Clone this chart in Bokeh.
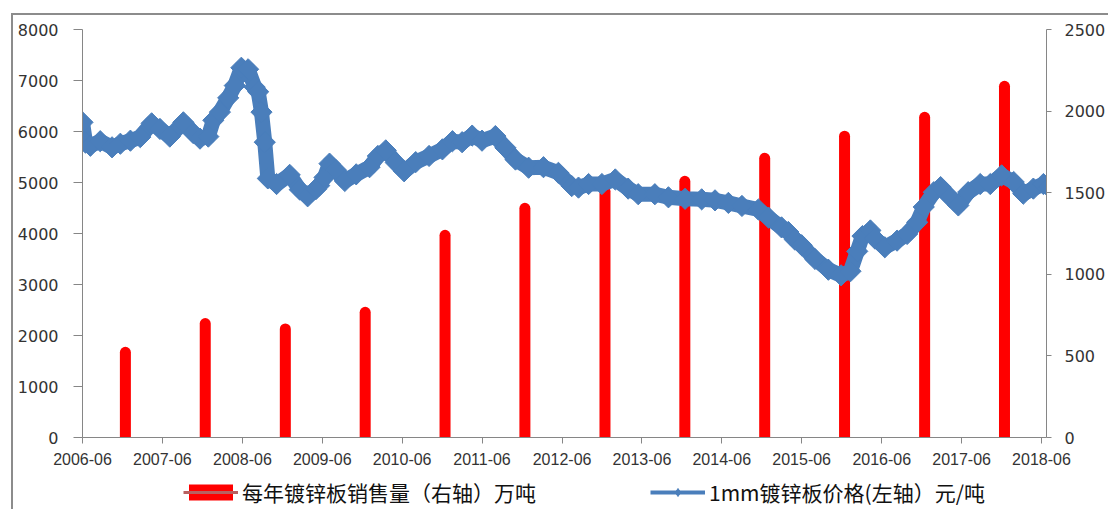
import numpy as np
import pandas as pd
from bokeh.plotting import figure
from bokeh.layouts import column
from bokeh.models import (Range1d, LinearAxis, FixedTicker, Legend, LegendItem,
                          ColumnDataSource, InlineStyleSheet)
from bokeh.embed import file_html
from bokeh.resources import INLINE

# ---------------- data ----------------
tick_labels = ["2006-06", "2007-06", "2008-06", "2009-06", "2010-06", "2011-06", "2012-06",
               "2013-06", "2014-06", "2015-06", "2016-06", "2017-06", "2018-06"]
left_ticks = [0, 1000, 2000, 3000, 4000, 5000, 6000, 7000, 8000]
right_ticks = [0, 500, 1000, 1500, 2000, 2500]

sales_dates = ["2006-12-14", "2007-12-14", "2008-12-14", "2009-12-14", "2010-12-14", "2011-12-14",
               "2012-12-14", "2013-12-14", "2014-12-14", "2015-12-14", "2016-12-14", "2017-12-14"]
sales_values = [522, 698, 665, 767, 1239, 1404, 1509, 1570, 1711, 1846, 1962, 2152]

price_dates = [
    "2006-06-01", "2006-06-15", "2006-07-07", "2006-08-21", "2006-10-14", "2006-11-21",
    "2007-01-06", "2007-02-20", "2007-04-13", "2007-05-21", "2007-07-05", "2007-09-05",
    "2007-10-20", "2007-11-20", "2007-12-28", "2008-01-20", "2008-02-19", "2008-03-28",
    "2008-04-27", "2008-05-27", "2008-06-27", "2008-07-27", "2008-08-12", "2008-08-27",
    "2008-09-11", "2008-09-25", "2008-11-04", "2009-01-03", "2009-02-18", "2009-03-26",
    "2009-05-03", "2009-05-18", "2009-06-11", "2009-07-04", "2009-08-03", "2009-09-12",
    "2009-11-03", "2010-01-03", "2010-02-10", "2010-03-18", "2010-05-03", "2010-06-10",
    "2010-08-02", "2010-10-02", "2010-12-02", "2011-01-17", "2011-03-02", "2011-04-17",
    "2011-06-01", "2011-08-01", "2011-09-16", "2011-11-01", "2011-12-31", "2012-03-08",
    "2012-05-15", "2012-07-15", "2012-08-15", "2012-09-30", "2012-11-30", "2013-01-30",
    "2013-03-30", "2013-05-15", "2013-07-30", "2013-09-30", "2013-12-15", "2014-03-01",
    "2014-05-01", "2014-07-01", "2014-09-01", "2014-11-15", "2015-01-01", "2015-03-01",
    "2015-04-01", "2015-05-01", "2015-06-01", "2015-08-01", "2015-10-01", "2015-11-28",
    "2016-01-10", "2016-02-10", "2016-03-05", "2016-04-10", "2016-05-01", "2016-06-15",
    "2016-08-10", "2016-09-25", "2016-11-10", "2016-12-10", "2017-01-25", "2017-02-25",
    "2017-04-10", "2017-05-17", "2017-07-01", "2017-08-25", "2017-10-10", "2017-12-01",
    "2018-01-25", "2018-03-10", "2018-04-25", "2018-06-10", "2018-07-05"]
price_values = [
    6180, 5780, 5720, 5810, 5690, 5760,
    5820, 5890, 6160, 6050, 5900, 6180,
    5970, 5860, 5900, 6220, 6380, 6660,
    6900, 7250, 7220, 6870, 6780, 6380,
    5790, 5080, 4970, 5150, 4860, 4730,
    4870, 4940, 5100, 5370, 5240, 5030,
    5160, 5300, 5520, 5630, 5390, 5220,
    5400, 5520, 5650, 5810, 5790, 5920,
    5820, 5910, 5680, 5450, 5290, 5300,
    5190, 4930, 4900, 4970, 4970, 5060,
    4880, 4770, 4770, 4710, 4680, 4670,
    4650, 4600, 4540, 4470, 4310, 4120,
    4030, 3880, 3770, 3500, 3290, 3180,
    3260, 3650, 3950, 4060, 3900, 3730,
    3860, 3990, 4220, 4520, 4810, 4910,
    4710, 4550, 4810, 4970, 4970, 5140,
    5010, 4780, 4880, 4970, 4910]

label_sales = "每年镀锌板销售量（右轴）万吨"
label_price = "1mm镀锌板价格(左轴）元/吨"

# ---------------- styling ----------------
BLUE = "#4A7EBB"
RED = "#FF0000"
AXIS_GRAY = "#868686"
TEXT = "#333333"

def ms(s):
    return pd.Timestamp(s).value // 10**6

x_start = ms("2006-06-01")
x_end = ms("2018-06-24")

p = figure(width=1108, height=475, x_axis_type="datetime",
           x_range=Range1d(x_start, x_end), y_range=Range1d(0, 8000),
           output_backend="svg", toolbar_location=None,
           min_border_left=82, min_border_right=58, min_border_top=29, min_border_bottom=38)
p.extra_y_ranges = {"right": Range1d(0, 2500)}
p.outline_line_color = None
p.xgrid.visible = False
p.ygrid.visible = False
p.background_fill_color = "white"
p.border_fill_color = "white"

# sales bars (right axis)
sales_src = ColumnDataSource(dict(x=[ms(d) for d in sales_dates], v=sales_values))
p.segment(x0="x", y0=0, x1="x", y1="v", source=sales_src, y_range_name="right",
          line_color=RED, line_width=11, line_cap="round")

# price line (left axis)
price_src = ColumnDataSource(dict(x=[ms(d) for d in price_dates], v=price_values))
p.line(x="x", y="v", source=price_src, line_color=BLUE, line_width=15, line_join="round")
p.scatter(x="x", y="v", source=price_src, marker="square", angle=np.pi / 4,
          size=15, fill_color=BLUE, line_color=BLUE, line_width=1)

# axes
xa = p.xaxis[0]
xa.ticker = FixedTicker(ticks=[ms(t + "-01") for t in tick_labels])
xa.major_label_overrides = {ms(t + "-01"): t for t in tick_labels}
xa.minor_tick_line_color = None
xa.major_tick_in = 0
xa.major_tick_out = 6
xa.major_label_standoff = 9
xa.axis_line_color = AXIS_GRAY
xa.major_tick_line_color = AXIS_GRAY
xa.major_label_text_font = "Liberation Sans"
xa.major_label_text_font_size = "16px"
xa.major_label_text_color = TEXT

ya = p.yaxis[0]
ya.ticker = FixedTicker(ticks=left_ticks)
ya.minor_tick_line_color = None
ya.major_tick_in = 0
ya.major_tick_out = 9
ya.major_label_standoff = 15
ya.axis_line_color = AXIS_GRAY
ya.major_tick_line_color = AXIS_GRAY
ya.major_label_text_font = "DejaVu Sans"
ya.major_label_text_font_size = "16px"
ya.major_label_text_color = TEXT

ra = LinearAxis(y_range_name="right", ticker=FixedTicker(ticks=right_ticks))
ra.minor_tick_line_color = None
ra.major_tick_in = 0
ra.major_tick_out = 5
ra.major_label_standoff = 13
ra.axis_line_color = AXIS_GRAY
ra.major_tick_line_color = AXIS_GRAY
ra.major_label_text_font = "DejaVu Sans"
ra.major_label_text_font_size = "16px"
ra.major_label_text_color = TEXT
p.add_layout(ra, "right")

# ---------------- legend strip ----------------
pl = figure(width=1108, height=34, x_range=Range1d(0, 1), y_range=Range1d(0, 1),
            output_backend="svg", toolbar_location=None, min_border=0,
            x_axis_location=None, y_axis_location=None)
pl.outline_line_color = None
pl.grid.visible = False
pl.background_fill_color = "white"
pl.border_fill_color = "white"

# legend swatch renderers: one point each, placed outside the visible range
r_box = pl.quad(left=[-3], right=[-2], top=[-2], bottom=[-3], fill_color=RED, line_color=None)
r_gray = pl.line(x=[-3, -2], y=[-3, -3], line_color="#B86060", line_width=3)
r_bl = pl.line(x=[-3, -2], y=[-3, -3], line_color=BLUE, line_width=4)
r_dm = pl.scatter(x=[-3], y=[-3], marker="diamond", size=14,
                  fill_color=BLUE, line_color=BLUE)

common = dict(orientation="horizontal", padding=0, margin=0, border_line_color=None,
              background_fill_alpha=0, glyph_width=55, glyph_height=20, label_standoff=4,
              label_text_font="Noto Sans CJK SC", label_text_font_size="21px",
              label_text_color="#111111")
leg1 = Legend(items=[LegendItem(label=label_sales, renderers=[r_box, r_gray])],
              location=(101, 2), **common)
leg2 = Legend(items=[LegendItem(label=label_price, renderers=[r_bl, r_dm])],
              location=(568, 2), **common)
pl.add_layout(leg1)
pl.add_layout(leg2)

border_css = InlineStyleSheet(css="""
:host::after {
  content: "";
  position: absolute;
  left: 11px; top: 13px; right: 0px; bottom: 0px;
  border-left: 2px solid #8C8C8C;
  border-top: 2px solid #8C8C8C;
  pointer-events: none;
}
""")

layout = column(p, pl, stylesheets=[border_css])
open("out.html", "w").write(file_html(layout, INLINE))
